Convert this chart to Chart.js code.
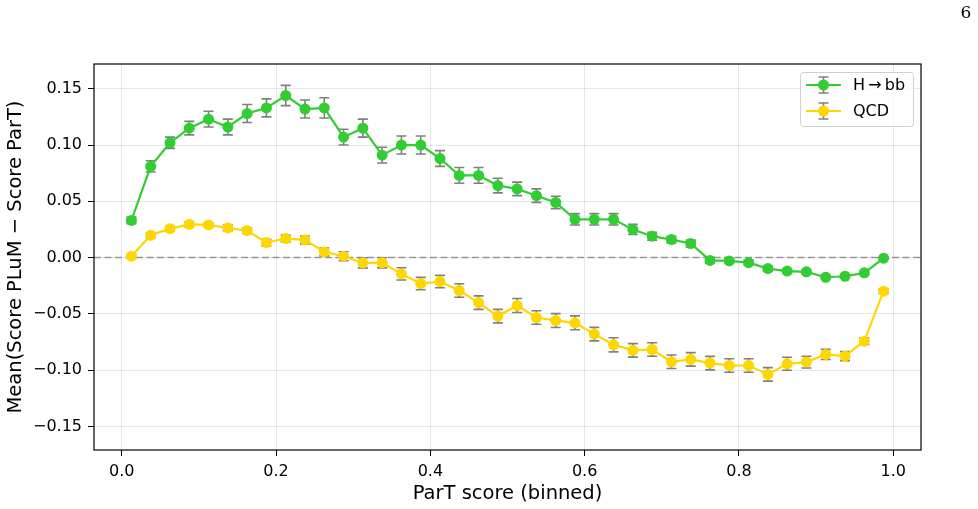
<!DOCTYPE html>
<html>
<head>
<meta charset="utf-8">
<script src="https://cdn.jsdelivr.net/npm/chart.js@4.4.1/dist/chart.umd.min.js"></script>
<style>
  html, body { margin: 0; padding: 0; background: #fff; }
  #wrap { width: 978px; height: 509px; position: relative; }
</style>
</head>
<body>
<div id="wrap"><canvas id="chart"></canvas></div>
<script>
// ---------------- DATA ----------------
const binCenters = [
  0.0125, 0.0375, 0.0625, 0.0875, 0.1125, 0.1375, 0.1625, 0.1875, 0.2125, 0.2375,
  0.2625, 0.2875, 0.3125, 0.3375, 0.3625, 0.3875, 0.4125, 0.4375, 0.4625, 0.4875,
  0.5125, 0.5375, 0.5625, 0.5875, 0.6125, 0.6375, 0.6625, 0.6875, 0.7125, 0.7375,
  0.7625, 0.7875, 0.8125, 0.8375, 0.8625, 0.8875, 0.9125, 0.9375, 0.9625, 0.9875
];

const hbbMean = [
  0.033, 0.081, 0.102, 0.115, 0.123, 0.116, 0.128, 0.133, 0.144, 0.132,
  0.133, 0.107, 0.115, 0.091, 0.100, 0.100, 0.088, 0.073, 0.073, 0.064,
  0.061, 0.055, 0.049, 0.034, 0.034, 0.034, 0.025, 0.019, 0.016, 0.0125,
  -0.0025, -0.003, -0.0045, -0.0098, -0.012, -0.0127, -0.0175, -0.0166, -0.0136, -0.0005
];
const hbbErr = [
  0.003, 0.005, 0.005, 0.006, 0.007, 0.007, 0.008, 0.008, 0.009, 0.008,
  0.009, 0.007, 0.008, 0.007, 0.008, 0.008, 0.007, 0.007, 0.007, 0.0065,
  0.006, 0.006, 0.0055, 0.005, 0.005, 0.005, 0.0045, 0.0035, 0.003, 0.003,
  0.0025, 0.0022, 0.002, 0.002, 0.0018, 0.0016, 0.0015, 0.0015, 0.0015, 0.001
];

const qcdMean = [
  0.0012, 0.0198, 0.0257, 0.0295, 0.029, 0.0263, 0.024, 0.0133, 0.0169, 0.0157,
  0.005, 0.0012, -0.0047, -0.0047, -0.0145, -0.0231, -0.0213, -0.0293, -0.040, -0.052,
  -0.0426, -0.0533, -0.056, -0.058, -0.068, -0.0775, -0.0825, -0.0817, -0.0926, -0.0905,
  -0.0938, -0.0959, -0.0959, -0.1038, -0.0944, -0.0929, -0.0861, -0.0876, -0.0743, -0.0299
];
const qcdErr = [
  0.0015, 0.002, 0.002, 0.002, 0.002, 0.0025, 0.0025, 0.003, 0.003, 0.0035,
  0.0035, 0.004, 0.0045, 0.0045, 0.0055, 0.0055, 0.0055, 0.006, 0.006, 0.006,
  0.0062, 0.006, 0.0062, 0.0062, 0.006, 0.0063, 0.006, 0.006, 0.006, 0.006,
  0.006, 0.006, 0.006, 0.006, 0.0058, 0.0052, 0.0045, 0.004, 0.003, 0.002
];

const xTicks = [0.0, 0.2, 0.4, 0.6, 0.8, 1.0];
const yTicks = [-0.15, -0.10, -0.05, 0.00, 0.05, 0.10, 0.15];
const zeroLine = 0;

const SERIES = [
  { label: 'H\u2009\u2192\u2009bb', mean: hbbMean, err: hbbErr, color: '#32CD32' },
  { label: 'QCD',                  mean: qcdMean, err: qcdErr, color: '#FFD700' }
];

// ---------------- STYLE ----------------
const FONT = 'DejaVu Sans';
const TICK_SIZE = 16;
const LABEL_SIZE = 19.5;
const ERR_COLOR = '#808080';
const GRID_COLOR = 'rgba(176,176,176,0.3)';

// ---------------- PLUGINS ----------------
const errorBars = {
  id: 'errorBars',
  beforeDatasetsDraw(chart) {
    const { ctx, scales: { x, y }, chartArea } = chart;
    ctx.save();
    // dashed zero line
    ctx.strokeStyle = 'rgba(128,128,128,0.8)';
    ctx.lineWidth = 1.6;
    ctx.setLineDash([7, 3.5]);
    const y0 = y.getPixelForValue(zeroLine);
    ctx.beginPath();
    ctx.moveTo(chartArea.left, y0);
    ctx.lineTo(chartArea.right, y0);
    ctx.stroke();
    ctx.setLineDash([]);

    ctx.strokeStyle = ERR_COLOR;
    ctx.lineWidth = 1.6;
    SERIES.forEach(s => {
      s.mean.forEach((m, i) => {
        const px = x.getPixelForValue(binCenters[i]);
        const top = y.getPixelForValue(m + s.err[i]);
        const bot = y.getPixelForValue(m - s.err[i]);
        ctx.beginPath();
        ctx.moveTo(px, top); ctx.lineTo(px, bot);
        ctx.moveTo(px - 5, top); ctx.lineTo(px + 5, top);
        ctx.moveTo(px - 5, bot); ctx.lineTo(px + 5, bot);
        ctx.stroke();
      });
    });
    ctx.restore();
  },
  afterDraw(chart) {
    const { ctx, chartArea: a } = chart;
    ctx.save();
    // axes frame
    ctx.strokeStyle = '#000';
    ctx.lineWidth = 1.2;
    ctx.strokeRect(a.left, a.top, a.right - a.left, a.bottom - a.top);

    // legend
    const bx = 800, by = 72, bw = 113, bh = 54;
    ctx.fillStyle = 'rgba(255,255,255,0.8)';
    ctx.strokeStyle = '#d0d0d0';
    ctx.lineWidth = 1;
    ctx.beginPath();
    ctx.roundRect(bx + 0.5, by + 0.5, bw, bh, 3);
    ctx.fill();
    ctx.stroke();
    SERIES.forEach((s, i) => {
      const cy = by + 13 + i * 26;
      const x1 = bx + 6, x2 = bx + 41, xm = (x1 + x2) / 2;
      ctx.strokeStyle = ERR_COLOR;
      ctx.lineWidth = 1.6;
      ctx.beginPath();
      ctx.moveTo(xm, cy - 8); ctx.lineTo(xm, cy + 8);
      ctx.moveTo(xm - 5, cy - 8); ctx.lineTo(xm + 5, cy - 8);
      ctx.moveTo(xm - 5, cy + 8); ctx.lineTo(xm + 5, cy + 8);
      ctx.stroke();
      ctx.strokeStyle = s.color;
      ctx.lineWidth = 2.2;
      ctx.beginPath();
      ctx.moveTo(x1, cy); ctx.lineTo(x2, cy);
      ctx.stroke();
      ctx.fillStyle = s.color;
      ctx.beginPath();
      ctx.arc(xm, cy, 5.5, 0, Math.PI * 2);
      ctx.fill();
      ctx.fillStyle = '#000';
      ctx.font = `${TICK_SIZE}px "${FONT}"`;
      ctx.textBaseline = 'middle';
      ctx.textAlign = 'left';
      ctx.fillText(s.label, bx + 53, cy + 1);
    });

    // page number
    ctx.fillStyle = '#000';
    ctx.font = '17px "DejaVu Serif"';
    ctx.textAlign = 'center';
    ctx.textBaseline = 'middle';
    ctx.fillText('6', 966, 14);
    ctx.restore();
  }
};

// ---------------- CHART ----------------
new Chart(document.getElementById('chart').getContext('2d'), {
  type: 'line',
  data: {
    datasets: SERIES.map(s => ({
      label: s.label,
      data: s.mean.map((m, i) => ({ x: binCenters[i], y: m })),
      borderColor: s.color,
      backgroundColor: s.color,
      borderWidth: 2.2,
      pointRadius: 5.5,
      pointHoverRadius: 5.5,
      pointBorderWidth: 0,
      tension: 0,
      fill: false
    }))
  },
  plugins: [errorBars],
  options: {
    responsive: true,
    maintainAspectRatio: false,
    animation: false,
    events: [],
    layout: { padding: { left: 0, top: 64, right: 57, bottom: 0 } },
    plugins: {
      legend: { display: false },
      tooltip: { enabled: false }
    },
    scales: {
      x: {
        type: 'linear',
        min: -0.036,
        max: 1.036,
        afterBuildTicks: s => { s.ticks = xTicks.map(v => ({ value: v })); },
        afterFit: s => { s.height = 59; },
        ticks: {
          font: { family: FONT, size: TICK_SIZE },
          color: '#000',
          padding: 6,
          maxRotation: 0,
          callback: v => v.toFixed(1)
        },
        grid: { color: GRID_COLOR, tickColor: '#000', tickLength: 6, lineWidth: 1 },
        border: { display: false },
        title: {
          display: true,
          text: 'ParT score (binned)',
          color: '#000',
          font: { family: FONT, size: LABEL_SIZE },
          padding: { top: 0, bottom: 3 }
        }
      },
      y: {
        type: 'linear',
        min: -0.171,
        max: 0.172,
        afterBuildTicks: s => { s.ticks = yTicks.map(v => ({ value: v })); },
        afterFit: s => { s.width = 94; },
        ticks: {
          font: { family: FONT, size: TICK_SIZE },
          color: '#000',
          padding: 6,
          callback: v => (v < -1e-9 ? '\u2212' : '') + Math.abs(v).toFixed(2)
        },
        grid: { color: GRID_COLOR, tickColor: '#000', tickLength: 6, lineWidth: 1 },
        border: { display: false },
        title: {
          display: true,
          text: 'Mean(Score PLuM \u2212 Score ParT)',
          color: '#000',
          font: { family: FONT, size: LABEL_SIZE },
          padding: { top: 4, bottom: 2 }
        }
      }
    }
  }
});
</script>
</body>
</html>
